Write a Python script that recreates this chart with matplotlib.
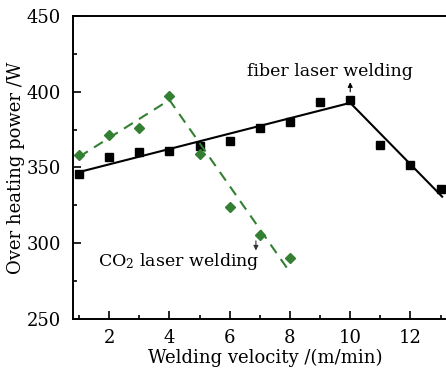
import numpy as np
import matplotlib
matplotlib.use("Agg")
import matplotlib.pyplot as plt
from matplotlib.ticker import MultipleLocator

velocity = [1, 2, 3, 4, 5, 6, 7, 8, 9, 10, 11, 12, 13]
fiber_power = [345.7, 357.1, 360.4, 361.1, 364.2, 367.5, 375.8, 380.0, 392.9, 394.5, 364.6, 351.4, 335.8]

co2_velocity = [1, 2, 3, 4, 5, 6, 7, 8]
co2_power = [358.2, 371.4, 375.8, 397.3, 358.9, 324.2, 305.5, 290.2]

# fitted trend lines (end points)
fiber_fit_x = [1, 10, 13.05]
fiber_fit_y = [347.0, 392.6, 330.8]
co2_fit_x = [1, 4, 8]
co2_fit_y = [357.0, 394.5, 281.0]

green = "#338033"

plt.rcParams["font.family"] = "DejaVu Serif"
plt.rcParams["mathtext.fontset"] = "dejavuserif"
plt.rcParams["font.size"] = 12

fig = plt.figure(figsize=(4.46, 3.71), dpi=100)
ax = fig.add_axes([73.3 / 446, (371 - 319.3) / 371, 383 / 446, (319.3 - 15.7) / 371])

ax.plot(fiber_fit_x, fiber_fit_y, color="black", lw=1.5)
ax.plot(velocity, fiber_power, ls="none", marker="s", ms=5.3, color="black")
ax.plot(co2_fit_x, co2_fit_y, color=green, lw=1.5, dashes=(5, 3.5))
ax.plot(co2_velocity, co2_power, ls="none", marker="D", ms=5.3, color=green)

ax.annotate("", xy=(10, 408), xytext=(10, 398),
            arrowprops=dict(arrowstyle="-|>", color="black", lw=0.8, mutation_scale=7))
ax.text(9.33, 413, "fiber laser welding", ha="center", va="center", fontsize=12.5)
ax.annotate("", xy=(6.87, 293.5), xytext=(6.87, 303.5),
            arrowprops=dict(arrowstyle="-|>", color="#333333", lw=0.8, mutation_scale=7))
ax.text(4.3, 288, "CO$_2$ laser welding", ha="center", va="center", fontsize=12.5)

ax.set_xlim(0.81, 13.52)
ax.set_ylim(250, 450)
ax.xaxis.set_major_locator(MultipleLocator(2))
ax.xaxis.set_minor_locator(MultipleLocator(1))
ax.yaxis.set_major_locator(MultipleLocator(50))
ax.yaxis.set_minor_locator(MultipleLocator(25))
ax.tick_params(which="both", direction="in", width=1.2, labelsize=13)
ax.tick_params(which="major", length=5.5)
ax.tick_params(which="minor", length=3)
ax.tick_params(axis="x", which="major", pad=7)
ax.tick_params(axis="y", which="major", pad=9)
for s in ax.spines.values():
    s.set_linewidth(1.4)

ax.set_xlabel("Welding velocity /(m/min)", fontsize=13, labelpad=1)
ax.set_ylabel("Over heating power /W", fontsize=13, labelpad=1)

fig.savefig("out.png", dpi=100)
